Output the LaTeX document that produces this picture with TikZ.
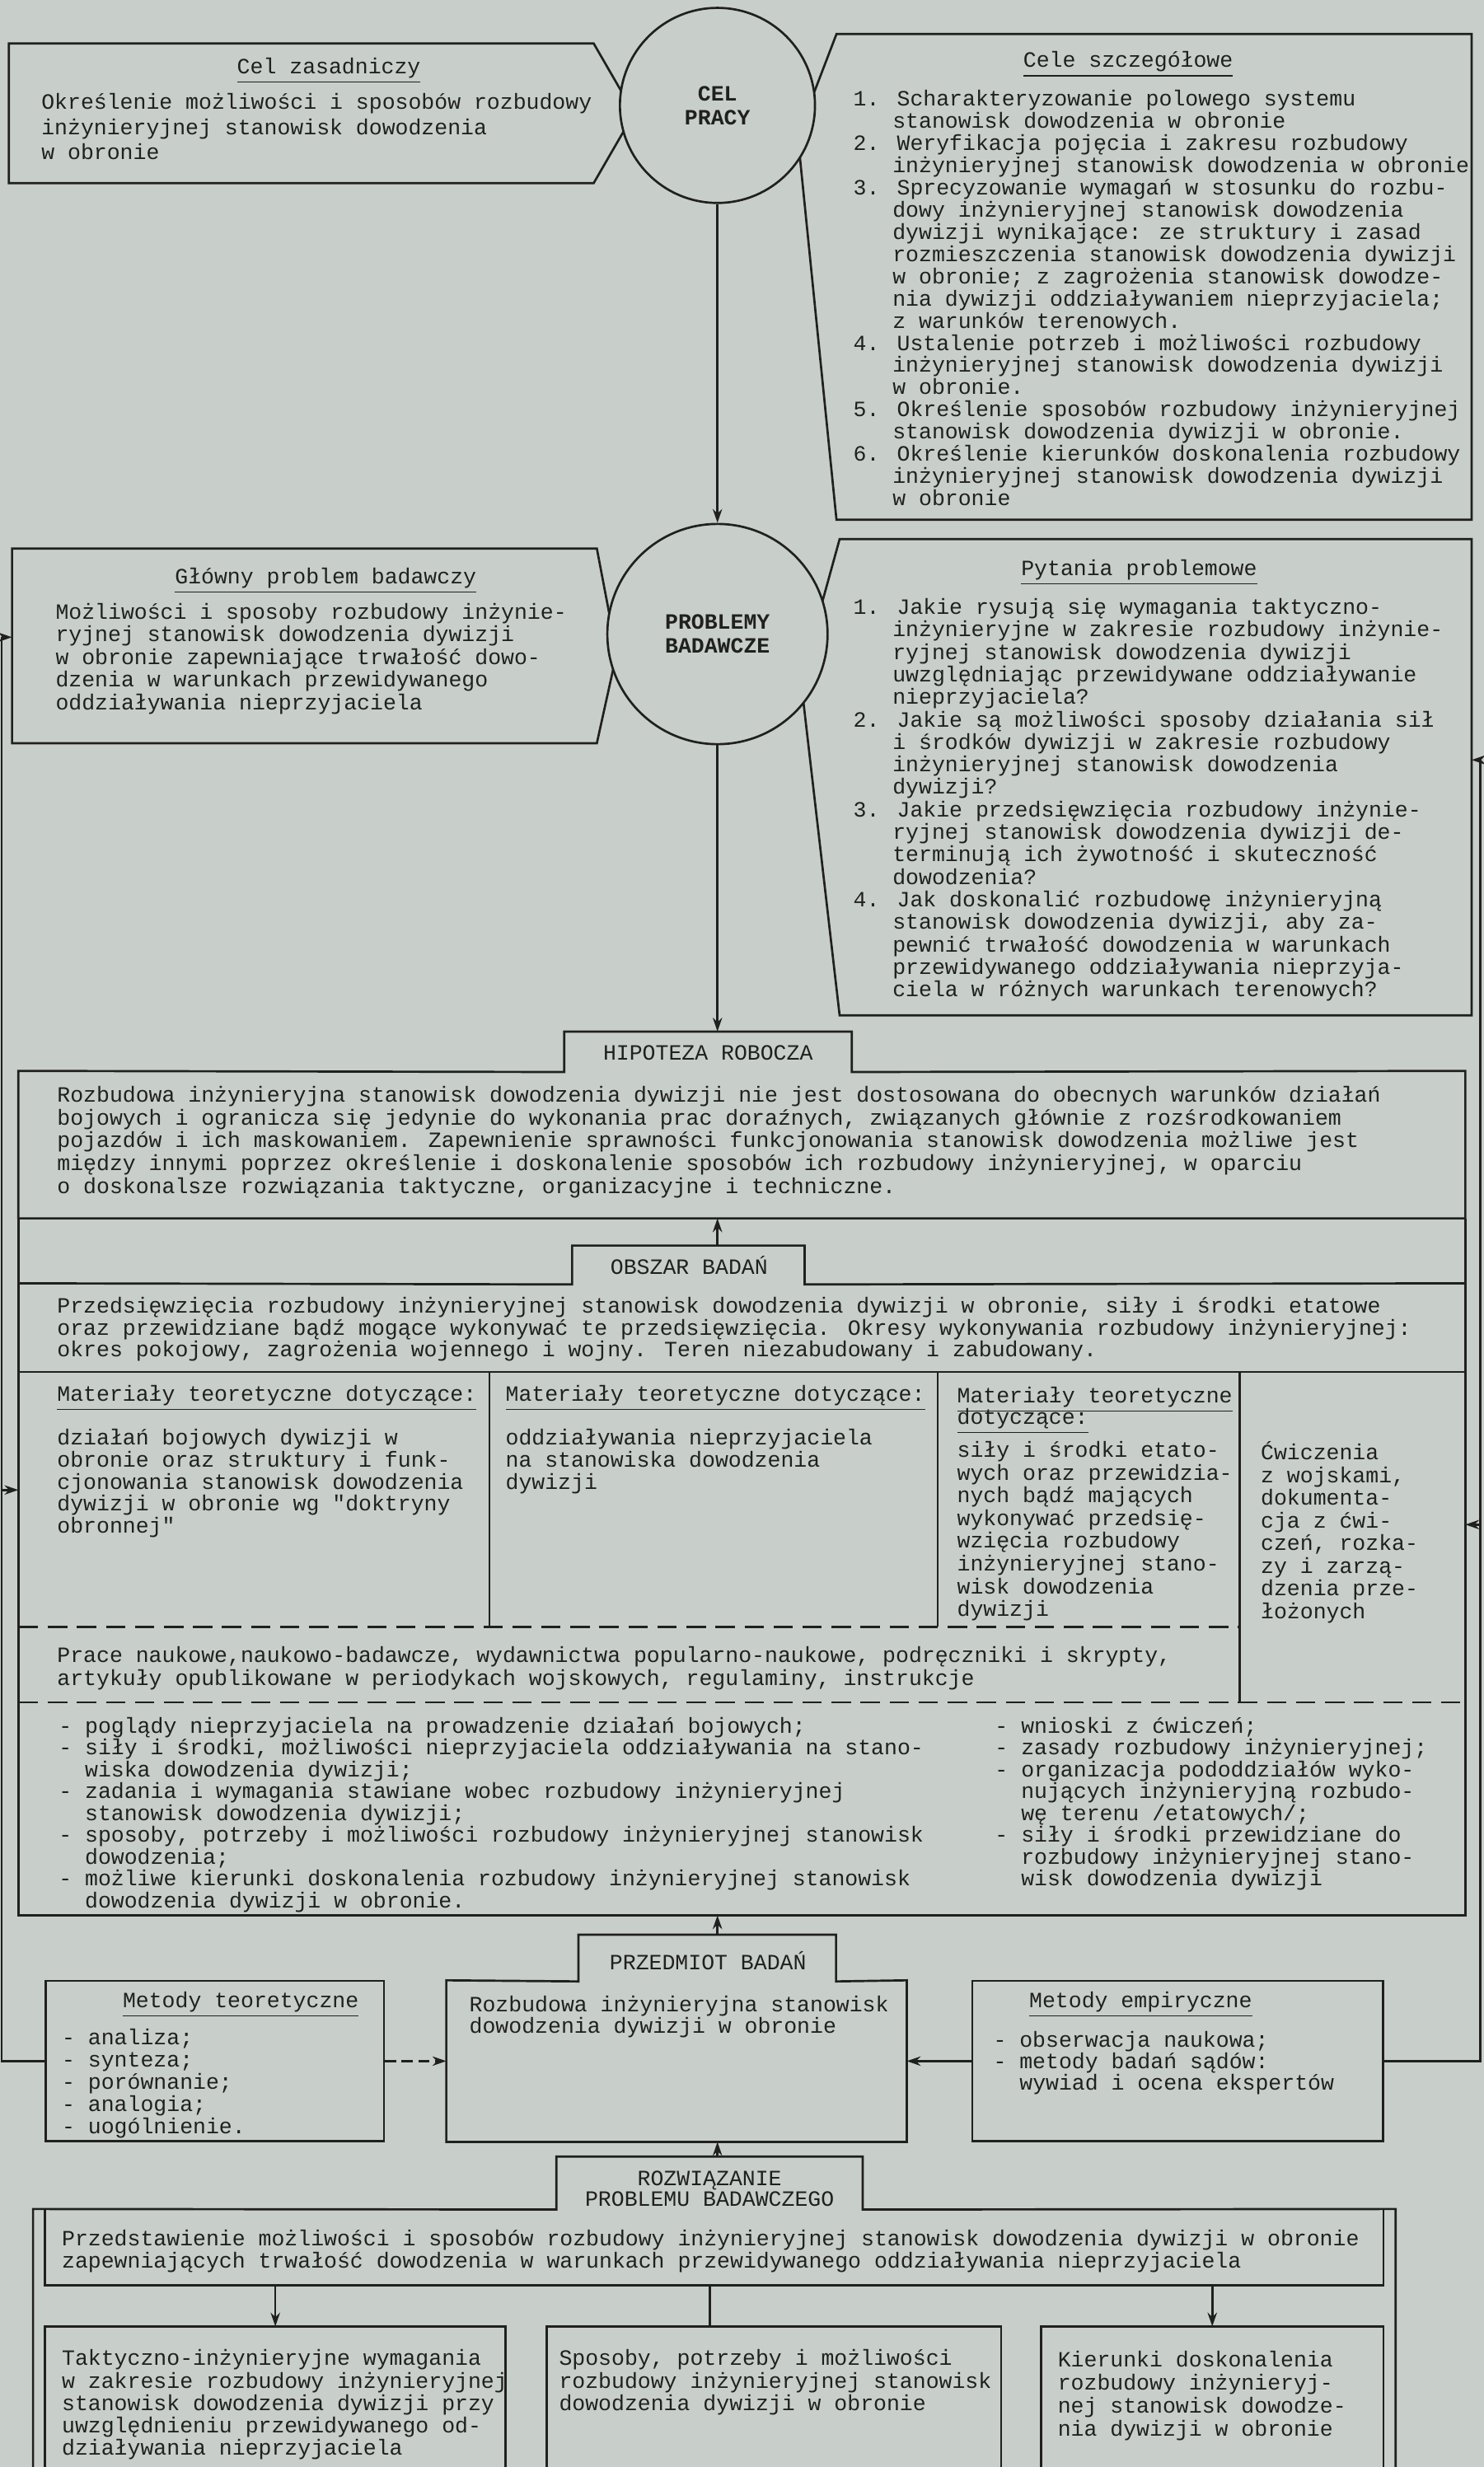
\documentclass[tikz,border=0pt]{standalone}
\usepackage{fontspec}
\setmainfont{Liberation Mono}
\setmonofont{Liberation Mono}
\usepackage{tikz}
\usetikzlibrary{arrows.meta,fit,positioning}
\definecolor{paper}{RGB}{200,207,202}
\definecolor{ink}{RGB}{32,32,32}
\newcommand{\nr}{\hphantom{0.~}}
\newcommand{\pz}{\hphantom{-~}}
\newcommand{\qq}{{\ttfamily\char34}}
\newcommand{\fs}[1]{\fontsize{7.9}{#1}\selectfont}

\begin{document}
\begin{tikzpicture}[x=0.02cm,y=-0.02cm,
  area/.style={inner sep=0pt,draw=none},
  box/.style={draw=ink,line width=0.8pt},
  txt/.style={anchor=north west,inner sep=0pt,align=left,text=ink,font=\fs{8.1pt}},
  ttl/.style={inner sep=0pt,text=ink,font=\fs{8.1pt}},
  ring/.style={circle,draw=ink,line width=0.8pt,fill=paper,inner sep=0pt,
    align=center,text=ink,font=\bfseries\fs{8.6pt}},
  link/.style={draw=ink,line width=0.8pt},
  arr/.style={link,-{Stealth[length=5pt,width=3.4pt]}},
  dashline/.style={draw=ink,line width=0.8pt,dash pattern=on 7pt off 3.5pt}]
\useasboundingbox[fill=paper] (0,0) rectangle (943,1568);

% cel pracy
\node[area,fit={(6,28) (377,116)}] (celz) {};
\node[area,fit={(532,22) (935,330)}] (cele) {};
\draw[box] (celz.north west) -- (celz.north east) -- (403,72) -- (celz.south east) -- (celz.south west) -- cycle;
\draw[box] (cele.north east) -- (cele.north west) -- (507,86) -- (cele.south west) -- (cele.south east) -- cycle;
\node[ring,minimum size=2.48cm] (cel) at (456,67) {CEL\\PRACY};

\node[ttl] (celzh) at (209,45) {\underline{Cel zasadniczy}};
\node[txt,font=\fs{9.1pt}] (celzt) at (26,59) {Określenie możliwości i sposobów rozbudowy\\
inżynieryjnej stanowisk dowodzenia\\
w obronie};

\node[ttl] (celeh) at (717,41) {\underline{Cele szczegółowe}};
\node[txt,font=\fs{8.03pt}] (celet) at (542,57) {1. Scharakteryzowanie polowego systemu\\
\nr stanowisk dowodzenia w obronie\\
2. Weryfikacja pojęcia i zakresu rozbudowy\\
\nr inżynieryjnej stanowisk dowodzenia w obronie\\
3. Sprecyzowanie wymagań w stosunku do rozbu-\\
\nr dowy inżynieryjnej stanowisk dowodzenia\\
\nr dywizji wynikające: ze struktury i zasad\\
\nr rozmieszczenia stanowisk dowodzenia dywizji\\
\nr w obronie; z zagrożenia stanowisk dowodze-\\
\nr nia dywizji oddziaływaniem nieprzyjaciela;\\
\nr z warunków terenowych.\\
4. Ustalenie potrzeb i możliwości rozbudowy\\
\nr inżynieryjnej stanowisk dowodzenia dywizji\\
\nr w obronie.\\
5. Określenie sposobów rozbudowy inżynieryjnej\\
\nr stanowisk dowodzenia dywizji w obronie.\\
6. Określenie kierunków doskonalenia rozbudowy\\
\nr inżynieryjnej stanowisk dowodzenia dywizji\\
\nr w obronie};

% problemy badawcze
\node[area,fit={(8,349) (379,472)}] (glowny) {};
\node[area,fit={(534,343) (935,645)}] (pytania) {};
\draw[box] (glowny.north west) -- (glowny.north east) -- (392,415) -- (glowny.south east) -- (glowny.south west) -- cycle;
\draw[box] (pytania.north east) -- (pytania.north west) -- (509,432) -- (pytania.south west) -- (pytania.south east) -- cycle;
\node[ring,minimum size=2.8cm] (prob) at (456,403) {PROBLEMY\\BADAWCZE};

\node[ttl] (glownyh) at (207,369) {\underline{Główny problem badawczy}};
\node[txt,font=\fs{8.2pt}] (glownyt) at (35,383) {Możliwości i sposoby rozbudowy inżynie-\\
ryjnej stanowisk dowodzenia dywizji\\
w obronie zapewniające trwałość dowo-\\
dzenia w warunkach przewidywanego\\
oddziaływania nieprzyjaciela};

\node[ttl] (pytaniah) at (724,364) {\underline{Pytania problemowe}};
\node[txt,font=\fs{8.14pt}] (pytaniat) at (542,380) {1. Jakie rysują się wymagania taktyczno-\\
\nr inżynieryjne w zakresie rozbudowy inżynie-\\
\nr ryjnej stanowisk dowodzenia dywizji\\
\nr uwzględniając przewidywane oddziaływanie\\
\nr nieprzyjaciela?\\
2. Jakie są możliwości sposoby działania sił\\
\nr i środków dywizji w zakresie rozbudowy\\
\nr inżynieryjnej stanowisk dowodzenia\\
\nr dywizji?\\
3. Jakie przedsięwzięcia rozbudowy inżynie-\\
\nr ryjnej stanowisk dowodzenia dywizji de-\\
\nr terminują ich żywotność i skuteczność\\
\nr dowodzenia?\\
4. Jak doskonalić rozbudowę inżynieryjną\\
\nr stanowisk dowodzenia dywizji, aby za-\\
\nr pewnić trwałość dowodzenia w warunkach\\
\nr przewidywanego oddziaływania nieprzyja-\\
\nr ciela w różnych warunkach terenowych?};

% hipoteza i obszar badan
\node[area,fit={(359,656) (541,681)}] (hiptab) {};
\node[area,fit={(12,681) (931,774)}] (hip) {};
\node[area,fit={(364,792) (511,816)}] (obtab) {};
\node[area,fit={(12,816) (931,1217)}] (obszar) {};
\draw[box] (hip.south west) -- (hip.north west) -- (hiptab.south west) -- (hiptab.north west)
  -- (hiptab.north east) -- (hiptab.south east) -- (hip.north east) -- (hip.south east) -- cycle;
\draw[box] (hip.south west) -- (obszar.south west) -- (obszar.south east) -- (hip.south east);
\draw[box] (obszar.north west) -- (obtab.south west) -- (obtab.north west) -- (obtab.north east)
  -- (obtab.south east) -- (obszar.north east);
\draw[box] (12,872) -- (931,872);
\draw[box] (311,872) -- (311,1034);
\draw[box] (596,872) -- (596,1034);
\draw[box] (788,872) -- (788,1082);
\draw[dashline] (12,1034) -- (788,1034);
\draw[dashline] (12,1082) -- (931,1082);

\node[ttl] (hiph) at (450,669) {HIPOTEZA ROBOCZA};
\node[txt,font=\fs{8.25pt}] (hipt) at (36,690) {Rozbudowa inżynieryjna stanowisk dowodzenia dywizji nie jest dostosowana do obecnych warunków działań\\
bojowych i ogranicza się jedynie do wykonania prac doraźnych, związanych głównie z rozśrodkowaniem\\
pojazdów i ich maskowaniem. Zapewnienie sprawności funkcjonowania stanowisk dowodzenia możliwe jest\\
między innymi poprzez określenie i doskonalenie sposobów ich rozbudowy inżynieryjnej, w oparciu\\
o doskonalsze rozwiązania taktyczne, organizacyjne i techniczne.};

\node[ttl] (obh) at (438,804) {OBSZAR BADAŃ};
\node[txt,font=\fs{7.97pt}] (obt) at (36,824) {Przedsięwzięcia rozbudowy inżynieryjnej stanowisk dowodzenia dywizji w obronie, siły i środki etatowe\\
oraz przewidziane bądź mogące wykonywać te przedsięwzięcia. Okresy wykonywania rozbudowy inżynieryjnej:\\
okres pokojowy, zagrożenia wojennego i wojny. Teren niezabudowany i zabudowany.};

\node[txt] (mat1h) at (36,880) {\underline{Materiały teoretyczne dotyczące:}};
\node[txt,font=\fs{7.97pt}] (mat1) at (36,908) {działań bojowych dywizji w\\
obronie oraz struktury i funk-\\
cjonowania stanowisk dowodzenia\\
dywizji w obronie wg \qq doktryny\\
obronnej\qq};
\node[txt] (mat2h) at (321,880) {\underline{Materiały teoretyczne dotyczące:}};
\node[txt,font=\fs{7.97pt}] (mat2) at (321,908) {oddziaływania nieprzyjaciela\\
na stanowiska dowodzenia\\
dywizji};
\node[txt,font=\fs{7.97pt}] (mat3h) at (608,881) {\underline{Materiały teoretyczne}\\[-2.6pt]
\underline{dotyczące:}};
\node[txt,font=\fs{8.2pt}] (mat3) at (608,916) {siły i środki etato-\\
wych oraz przewidzia-\\
nych bądź mających\\
wykonywać przedsię-\\
wzięcia rozbudowy\\
inżynieryjnej stano-\\
wisk dowodzenia\\
dywizji};
\node[txt,font=\fs{8.2pt}] (cwicz) at (801,916) {Ćwiczenia\\
z wojskami,\\
dokumenta-\\
cja z ćwi-\\
czeń, rozka-\\
zy i zarzą-\\
dzenia prze-\\
łożonych};

\node[txt,font=\fs{6.8pt}] (prace) at (36,1046) {Prace naukowe,naukowo-badawcze, wydawnictwa popularno-naukowe, podręczniki i skrypty,\\
artykuły opublikowane w periodykach wojskowych, regulaminy, instrukcje};

\node[txt,font=\fs{7.9pt}] (pogl) at (37,1091) {- poglądy nieprzyjaciela na prowadzenie działań bojowych;\\
- siły i środki, możliwości nieprzyjaciela oddziaływania na stano-\\
\pz wiska dowodzenia dywizji;\\
- zadania i wymagania stawiane wobec rozbudowy inżynieryjnej\\
\pz stanowisk dowodzenia dywizji;\\
- sposoby, potrzeby i możliwości rozbudowy inżynieryjnej stanowisk\\
\pz dowodzenia;\\
- możliwe kierunki doskonalenia rozbudowy inżynieryjnej stanowisk\\
\pz dowodzenia dywizji w obronie.};
\node[txt,font=\fs{7.9pt}] (wnio) at (632,1091) {- wnioski z ćwiczeń;\\
- zasady rozbudowy inżynieryjnej;\\
- organizacja pododdziałów wyko-\\
\pz nujących inżynieryjną rozbudo-\\
\pz wę terenu /etatowych/;\\
- siły i środki przewidziane do\\
\pz rozbudowy inżynieryjnej stano-\\
\pz wisk dowodzenia dywizji};

% przedmiot badan
\node[area,fit={(368,1230) (531,1259)}] (prtab) {};
\node[area,fit={(284,1259) (576,1361)}] (przed) {};
\node[area,box,fit={(29,1259) (244,1361)}] (mteo) {};
\node[area,box,fit={(618,1259) (879,1361)}] (memp) {};
\draw[box] (przed.north west) -- (prtab.south west) -- (prtab.north west) -- (prtab.north east)
  -- (prtab.south east) -- (przed.north east) -- (przed.south east) -- (przed.south west) -- cycle;

\node[ttl] (prh) at (450,1246) {PRZEDMIOT BADAŃ};
\node[txt,font=\fs{7.97pt}] (prt) at (298,1268) {Rozbudowa inżynieryjna stanowisk\\
dowodzenia dywizji w obronie};
\node[ttl] (mteoh) at (153,1274) {\underline{Metody teoretyczne}};
\node[txt,font=\fs{8.1pt}] (mteot) at (39,1289) {- analiza;\\
- synteza;\\
- porównanie;\\
- analogia;\\
- uogólnienie.};
\node[ttl] (memph) at (725,1274) {\underline{Metody empiryczne}};
\node[txt,font=\fs{7.7pt}] (mempt) at (631,1291) {- obserwacja naukowa;\\
- metody badań sądów:\\
\pz wywiad i ocena ekspertów};

% rozwiazanie problemu
\node[area,fit={(354,1371) (548,1404)}] (roztab) {};
\node[area,fit={(29,1404) (879,1452)}] (roz) {};
\node[area,fit={(29,1479) (321,1568)}] (wyn1) {};
\node[area,fit={(348,1479) (636,1568)}] (wyn2) {};
\node[area,fit={(662,1479) (879,1568)}] (wyn3) {};
\draw[box] (21,1568) -- (21,1404) -- (roztab.south west) -- (roztab.north west) -- (roztab.north east)
  -- (roztab.south east) -- (887,1404) -- (887,1568);
\draw[box] (roz.north west) -- (roz.south west) -- (roz.south east) -- (roz.north east);
\draw[box] (wyn1.south west) -- (wyn1.north west) -- (wyn1.north east) -- (wyn1.south east);
\draw[box] (wyn2.south west) -- (wyn2.north west) -- (wyn2.north east) -- (wyn2.south east);
\draw[box] (wyn3.south west) -- (wyn3.north west) -- (wyn3.north east) -- (wyn3.south east);

\node[ttl,align=center,font=\fs{7.4pt}] (rozh) at (451,1391) {ROZWIĄZANIE\\PROBLEMU BADAWCZEGO};
\node[txt,font=\fs{7.97pt}] (rozt) at (39,1417) {Przedstawienie możliwości i sposobów rozbudowy inżynieryjnej stanowisk dowodzenia dywizji w obronie\\
zapewniających trwałość dowodzenia w warunkach przewidywanego oddziaływania nieprzyjaciela};
\node[txt,font=\fs{8.14pt}] (wyn1t) at (39,1493) {Taktyczno-inżynieryjne wymagania\\
w zakresie rozbudowy inżynieryjnej\\
stanowisk dowodzenia dywizji przy\\
uwzględnieniu przewidywanego od-\\
działywania nieprzyjaciela};
\node[txt,font=\fs{8.14pt}] (wyn2t) at (355,1493) {Sposoby, potrzeby i możliwości\\
rozbudowy inżynieryjnej stanowisk\\
dowodzenia dywizji w obronie};
\node[txt,font=\fs{8.36pt}] (wyn3t) at (672,1494) {Kierunki doskonalenia\\
rozbudowy inżynieryj-\\
nej stanowisk dowodze-\\
nia dywizji w obronie};

% polaczenia
\draw[arr] (cel.south) -- (prob.north);
\draw[arr] (prob.south) -- (prob.south |- hiptab.north);
\draw[arr] (prob.south |- obtab.north) -- (prob.south |- hip.south);
\draw[arr] (prob.south |- prtab.north) -- (prob.south |- obszar.south);
\draw[arr] (prob.south |- roztab.north) -- (prob.south |- przed.south);
\draw[arr] (wyn1.north |- roz.south) -- (wyn1.north);
\draw[link] (roztab.south |- roz.south) -- (roztab.south |- wyn2.north);
\draw[arr] (wyn3.north |- roz.south) -- (wyn3.north);
\draw[arr,dash pattern=on 4pt off 2pt] (mteo.east) -- (przed.west);
\draw[arr] (memp.west) -- (przed.east);
%
\coordinate (lt) at (1,405);
\coordinate (lm) at (1,947);
\coordinate (rt) at (941,483);
\coordinate (rm) at (941,969);
\draw[link] (mteo.west) -- (mteo.west -| lt) -- (lt);
\draw[arr] (lt) -- (lt -| glowny.west);
\draw[arr] (lm) -- (lm -| obszar.west);
\draw[link] (memp.east) -- (memp.east -| rt) -- (rt);
\draw[arr] (rt) -- (rt -| pytania.east);
\draw[arr] (rm) -- (rm -| obszar.east);
\end{tikzpicture}
\end{document}
